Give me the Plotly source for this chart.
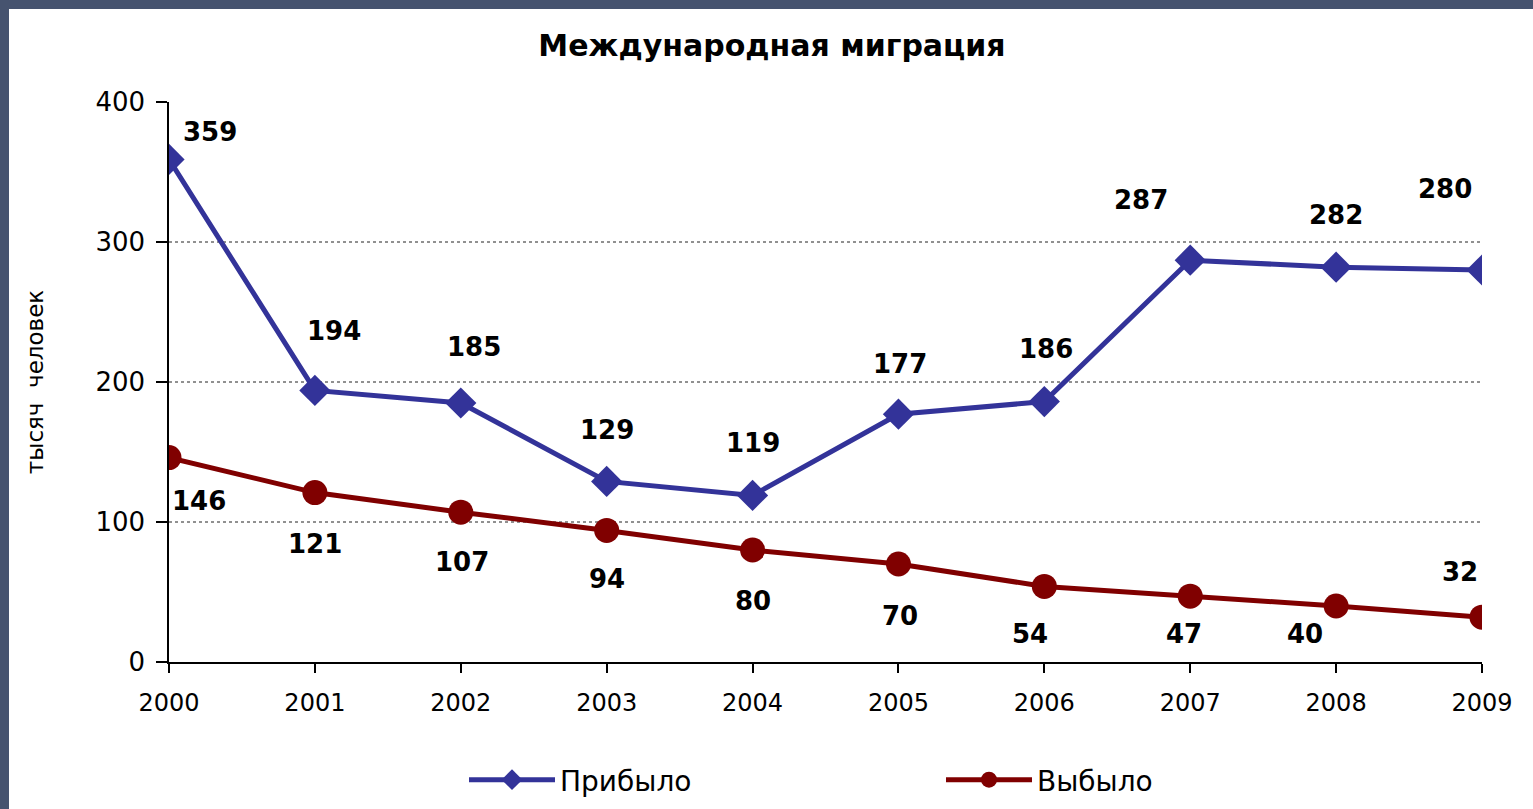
import plotly.graph_objects as go

years = [2000, 2001, 2002, 2003, 2004, 2005, 2006, 2007, 2008, 2009]
arrived = [359, 194, 185, 129, 119, 177, 186, 287, 282, 280]
departed = [146, 121, 107, 94, 80, 70, 54, 47, 40, 32]
series_names = ["Прибыло", "Выбыло"]
title_text = "Международная миграция"
y_title = "тысяч  человек"
y_ticks = [0, 100, 200, 300, 400]

# label offsets in pixels (dx, dy; dy positive = down)
arr_off = [(41, -27), (19, -59), (13, -56), (0, -51), (0, -52), (2, -50), (2, -53), (-49, -60), (0, -52), (-37, -81)]
dep_off = [(30, 43), (0, 51), (1, 50), (0, 49), (0, 51), (2, 52), (-14, 48), (-6, 38), (-31, 28), (-22, -45)]

BLUE = "#333399"
RED = "#800000"
FRAME = "#46536f"
FONT = "DejaVu Sans, Liberation Sans, Arial, sans-serif"

fig = go.Figure()
fig.add_trace(go.Scatter(x=years, y=arrived, name=series_names[0], mode="lines+markers",
                         line=dict(color=BLUE, width=5),
                         marker=dict(symbol="diamond", size=24, color=BLUE)))
fig.add_trace(go.Scatter(x=years, y=departed, name=series_names[1], mode="lines+markers",
                         line=dict(color=RED, width=5),
                         marker=dict(symbol="circle", size=25, color=RED)))

for xs, ys, offs in ((years, arrived, arr_off), (years, departed, dep_off)):
    for x, y, (dx, dy) in zip(xs, ys, offs):
        fig.add_annotation(x=x, y=y, text=f"<b>{y}</b>", showarrow=False,
                           xshift=dx, yshift=-dy,
                           font=dict(family=FONT, size=26, color="black"))

L, R, T, B = 169, 51, 102, 147
W, H = 1533, 809
pw, ph = W - L - R, H - T - B
# slide-like dark frame along the top and left edges
fig.add_shape(type="rect", xref="paper", yref="paper", layer="below",
              x0=-L / pw - 0.01, x1=(W - L) / pw + 0.01,
              y0=(H - B - 9) / ph, y1=(H - B) / ph + 0.01,
              fillcolor=FRAME, line=dict(width=0))
fig.add_shape(type="rect", xref="paper", yref="paper", layer="below",
              x0=-L / pw - 0.01, x1=(9 - L) / pw,
              y0=-B / ph - 0.01, y1=(H - B) / ph + 0.01,
              fillcolor=FRAME, line=dict(width=0))

fig.update_layout(
    width=W, height=H,
    margin=dict(l=L, r=R, t=T, b=B, pad=0, autoexpand=False),
    paper_bgcolor="white",
    plot_bgcolor="rgba(0,0,0,0)",
    title=dict(text=f"<b>{title_text}</b>", x=772 / W, xanchor="center",
               y=1 - 45 / H, yanchor="middle",
               font=dict(family=FONT, size=30, color="black")),
    font=dict(family=FONT, size=24, color="black"),
    showlegend=True,
    legend=dict(orientation="h", x=(464 - L) / pw, xanchor="left",
                y=-(780 - (H - B)) / ph, yanchor="middle",
                entrywidth=376, itemwidth=86,
                font=dict(family=FONT, size=28, color="black"),
                bgcolor="rgba(0,0,0,0)"),
    xaxis=dict(range=[2000, 2009], tickvals=years, ticktext=[str(y) for y in years],
               showgrid=False, zeroline=False, showline=True, linecolor="black", linewidth=1.5,
               ticks="outside", ticklen=9, tickcolor="black", tickwidth=1.5,
               tickfont=dict(size=24), ticklabelstandoff=9),
    yaxis=dict(range=[0, 400], tickvals=y_ticks, showgrid=False, zeroline=False,
               showline=True, linecolor="black", linewidth=1.5,
               ticks="outside", ticklen=11, tickcolor="black", tickwidth=1.5,
               tickfont=dict(size=26), ticklabelstandoff=6,
               title=dict(text=y_title, font=dict(size=23), standoff=45)),
)

for g in [100, 200, 300]:
    fig.add_shape(type="line", xref="x", yref="y", x0=2000, x1=2009, y0=g, y1=g,
                  line=dict(color="#222222", width=1, dash="dot"), layer="below")

fig.write_html("out.html", config={"displayModeBar": False},
               post_script="document.body.style.margin='0';document.body.style.overflow='hidden';")
